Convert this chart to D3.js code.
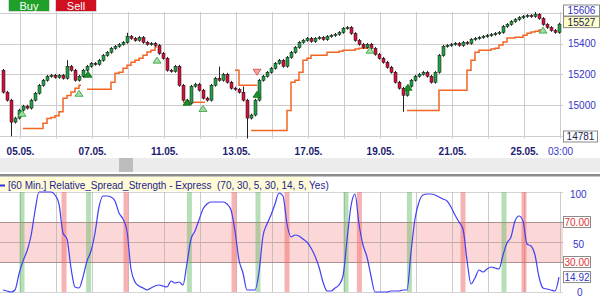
<!DOCTYPE html>
<html>
<head>
<meta charset="utf-8">
<script src="https://cdn.jsdelivr.net/npm/d3@7"></script>
<style>
  body { margin: 0; background: #fff; }
  svg { display: block; font-family: Arial, "Liberation Sans", sans-serif; }
</style>
</head>
<body>
<div id="chart"></div>
<script>
// hourly closes, one per bar (open = previous close)
const firstOpen = 15226;
const closes = [
  15083, 15031, 14888, 14914, 14966, 14992, 14979, 15031, 15076, 15128,
  15161, 15187, 15193, 15180, 15193, 15174, 15252, 15226, 15161, 15187,
  15226, 15252, 15271, 15265, 15291, 15323, 15343, 15369, 15382, 15395,
  15408, 15447, 15434, 15421, 15440, 15408, 15395, 15401, 15388, 15336,
  15304, 15226, 15219, 15252, 15128, 15031, 15011, 15122, 15135, 15096,
  15044, 15031, 15128, 15174, 15161, 15200, 15148, 15109, 15102, 15083,
  15031, 14914, 14934, 15031, 15161, 15187, 15213, 15239, 15271, 15291,
  15252, 15310, 15343, 15375, 15408, 15421, 15434, 15414, 15434, 15440,
  15427, 15447, 15453, 15460, 15473, 15499, 15505, 15466, 15421, 15395,
  15375, 15395, 15369, 15330, 15304, 15278, 15245, 15213, 15148, 15109,
  15063, 15122, 15161, 15187, 15200, 15213, 15187, 15148, 15213, 15323,
  15382, 15388, 15395, 15401, 15388, 15408, 15401, 15427, 15434, 15440,
  15447, 15453, 15460, 15466, 15473, 15512, 15525, 15544, 15557, 15570,
  15577, 15583, 15577, 15590, 15564, 15525, 15505, 15486, 15473, 15527
];
// bars with long wicks
const wickHighs = { 16: 15292, 31: 15470, 54: 15250, 60: 15120, 133: 15606 };
const wickLows = { 2: 14795, 61: 14781, 100: 14955 };

// indicator values per bar
const rss = [
  2, 1, 0, 2, 18, 31, 41, 56, 81, 100,
  100, 100, 100, 97, 88, 59, 53, 24, 5, 4,
  15, 31, 41, 59, 85, 96, 96, 95, 91, 79,
  73, 61, 23, 10, 6, 4, 2, 4, 6, 7,
  6, 5, 11, 9, 10, 7, 29, 53, 61, 72,
  83, 88, 90, 90, 90, 90, 88, 82, 61, 32,
  19, 2, 2, 2, 20, 56, 68, 77, 88, 99,
  96, 68, 55, 57, 56, 53, 50, 44, 36, 25,
  10, 1, 1, 4, 7, 16, 52, 86, 98, 68,
  47, 35, 16, 0, 0, 0, 0, 1, 1, 1,
  2, 2, 40, 73, 90, 97, 98, 98, 97, 95,
  93, 91, 85, 77, 70, 63, 32, 8, 14, 22,
  20, 23, 25, 24, 23, 37, 49, 55, 71, 76,
  71, 48, 46, 37, 15, 4, 3, 2, 1, 14.92
];

// trailing stop runs: first bar, then one value per bar
const stopRuns = [
  { start: 5, values: [14846, 14846, 14846, 14846, 14846, 14880, 14912, 14918, 14930, 14955, 15043, 15062, 15085, 15108, 15128] },
  { start: 21, values: [15102, 15102, 15102, 15102, 15102, 15102, 15148, 15207, 15213, 15239, 15259, 15279, 15292, 15305, 15324, 15345, 15357, 15377] },
  { start: 45, values: [15017, 15017, 15017, 15017, 15017, 15017] },
  { start: 58, values: [15226, 15128, 15128, 15128, 15128, 15128] },
  { start: 62, values: [14833, 14833, 14833, 14833, 14833, 14833, 14833, 14833, 14833, 14964, 15148, 15161, 15213, 15292, 15305, 15324, 15324, 15324, 15324, 15344, 15344, 15344, 15350, 15357, 15357, 15357, 15364, 15370, 15370, 15377] },
  { start: 101, values: [14964, 14964, 14964, 14964, 14964, 14964, 14964, 14964, 15095, 15095, 15095, 15095, 15095, 15095, 15095, 15226, 15292, 15344, 15357, 15357, 15357, 15365, 15370, 15390, 15410, 15436, 15436, 15442, 15442, 15455, 15468, 15475, 15480, 15488] }
];

const markerBars = [4.75, 19, 21.25, 38.5, 46, 50, 63.5, 63.5, 91.75, 101.25, 135];
const markerPrices = [14945, 15076, 15200, 15292, 15017, 14977, 15213, 15069, 15357, 15115, 15488];
const markerKinds = ["exit", "exit", "entry", "exit", "entry", "exit", "short", "entry", "exit", "entry", "exit"];

const buySignals = [4.75, 21.4, 46.6, 63.75, 85.75, 101.6, 125.25];
const sellSignals = [15.25, 30.75, 57.75, 71, 89.1, 115, 130.25];

const dayLabels = ["05.05.", "", "07.05.", "", "11.05.", "", "13.05.", "", "17.05.", "", "19.05.", "", "21.05.", "", "25.05.", "03:00"];
const dayBars = dayLabels.map((d, k) => 4.25 + 9 * k);
const priceGrid = [15600, 15400, 15200, 15000, 14800];
const priceLabels = [15400, 15200, 15000];
const rssLabels = [100, 50, 0];
const rssLevels = [70, 50, 30];

const W = 600, H = 300, plotRight = 563;
const svg = d3.select("#chart").append("svg").attr("width", W).attr("height", H);

const x = d3.scaleLinear().domain([-0.75, 140]).range([0, plotRight]);
const yP = d3.scaleLinear().domain([14781, 15606]).range([138.5, 12]);
const yI = d3.scaleLinear().domain([0, 100]).range([292, 192]);

// ---------- price panel ----------
const pricePanel = svg.append("g");
pricePanel.append("g").selectAll("line").data(dayBars).join("line")
  .attr("x1", d => Math.round(x(d)) + 0.5).attr("x2", d => Math.round(x(d)) + 0.5)
  .attr("y1", 12).attr("y2", 138.5)
  .attr("stroke", "#cdcdcd");
pricePanel.append("g").selectAll("line").data(priceGrid).join("line")
  .attr("x1", 0).attr("x2", plotRight)
  .attr("y1", d => Math.round(yP(d)) + 0.5).attr("y2", d => Math.round(yP(d)) + 0.5)
  .attr("stroke", "#cdcdcd");

// trailing stop
const stopLine = d3.line().x(d => x(d[0])).y(d => yP(d[1])).curve(d3.curveStepAfter);
pricePanel.append("g").selectAll("path").data(stopRuns).join("path")
  .attr("fill", "none").attr("stroke", "#f26522").attr("stroke-width", 1.5)
  .attr("d", r => {
    const pts = r.values.map((v, j) => [r.start + j, v]);
    pts.push([r.start + r.values.length - 0.5, r.values[r.values.length - 1]]);
    return stopLine(pts);
  });

// candles
const bars = closes.map((c, i) => {
  const o = i === 0 ? firstOpen : closes[i - 1];
  return {
    i, o, c,
    h: wickHighs[i] !== undefined ? wickHighs[i] : Math.max(o, c) + 9,
    l: wickLows[i] !== undefined ? wickLows[i] : Math.min(o, c) - 9
  };
});
const candle = pricePanel.append("g").selectAll("g").data(bars).join("g");
candle.append("line")
  .attr("x1", d => Math.round(x(d.i)) + 0.5).attr("x2", d => Math.round(x(d.i)) + 0.5)
  .attr("y1", d => yP(d.h)).attr("y2", d => yP(d.l))
  .attr("stroke", "#222");
candle.append("rect")
  .attr("x", d => Math.round(x(d.i)) - 1)
  .attr("width", 3)
  .attr("y", d => yP(Math.max(d.o, d.c)))
  .attr("height", d => Math.max(1.2, Math.abs(yP(d.o) - yP(d.c))))
  .attr("fill", d => d.c >= d.o ? "#22a046" : "#d3103a")
  .attr("stroke", "#111").attr("stroke-width", 0.5);

// signal markers
pricePanel.append("g").selectAll("path").data(markerBars).join("path")
  .attr("transform", (d, k) => `translate(${x(d)},${yP(markerPrices[k])})`)
  .attr("d", (d, k) => markerKinds[k] === "short" ? "M-4,-3L4,-3L0,3Z" : "M0,-3L4,3L-4,3Z")
  .attr("fill", (d, k) => markerKinds[k] === "entry" ? "#1d8f2a" : markerKinds[k] === "short" ? "#f5a3a3" : "#a6dca6")
  .attr("stroke", (d, k) => markerKinds[k] === "entry" ? "#0e6a1a" : markerKinds[k] === "short" ? "#d04848" : "#2e9a3a")
  .attr("stroke-width", 0.8);

// price axis
const pAxis = pricePanel.append("g").attr("transform", `translate(${plotRight},0)`)
  .call(d3.axisRight(yP).tickValues(priceLabels).tickFormat(d3.format("d")).tickSize(0).tickPadding(5));
pAxis.select(".domain").remove();
pAxis.selectAll("text").attr("fill", "#3535c8").attr("font-size", 10).attr("font-family", "Arial, 'Liberation Sans', sans-serif");

function valueBox(g, cy, w, label, fill, color) {
  g.append("rect").attr("x", plotRight + 0.5).attr("y", cy - 5.5).attr("width", w).attr("height", 11)
    .attr("fill", fill).attr("stroke", "#8a8a8a");
  g.append("text").attr("x", plotRight + 0.5 + w / 2).attr("y", cy + 3.6)
    .attr("text-anchor", "middle").attr("font-size", 10).attr("fill", color).text(label);
}
valueBox(pricePanel, 10.5, 36, "15606", "#fff", "#3535c8");
valueBox(pricePanel, yP(closes[closes.length - 1]) - 2, 36, String(closes[closes.length - 1]), "#ffffc8", "#222250");
valueBox(pricePanel, 136.5, 34, "14781", "#fff", "#222250");

// date axis
const xAxis = svg.append("g").attr("transform", "translate(0,146)")
  .call(d3.axisBottom(x).tickValues(dayBars.filter((d, k) => dayLabels[k]))
    .tickFormat(d => dayLabels[dayBars.indexOf(d)]).tickSize(0).tickPadding(2));
xAxis.select(".domain").remove();
xAxis.selectAll("text")
  .attr("font-size", 10).attr("font-family", "Arial, 'Liberation Sans', sans-serif")
  .attr("font-weight", d => dayLabels[dayBars.indexOf(d)].includes(":") ? "normal" : "bold")
  .attr("fill", d => dayLabels[dayBars.indexOf(d)].includes(":") ? "#3535c8" : "#1c2070");

// buttons
const btn = svg.append("g");
btn.append("rect").attr("x", 8.5).attr("y", -0.5).attr("width", 41).attr("height", 12).attr("fill", "#1ea02a").attr("stroke", "#d8d8d8");
btn.append("text").attr("x", 29).attr("y", 9.5).attr("text-anchor", "middle").attr("font-size", 11).attr("fill", "#fff").text("Buy");
btn.append("rect").attr("x", 55.5).attr("y", -0.5).attr("width", 41).attr("height", 12).attr("fill", "#d0101e").attr("stroke", "#d8d8d8");
btn.append("text").attr("x", 76).attr("y", 9.5).attr("text-anchor", "middle").attr("font-size", 11).attr("fill", "#fff").text("Sell");

// scroll bar and separator
svg.append("rect").attr("x", 0).attr("y", 158).attr("width", W).attr("height", 14).attr("fill", "#ececec");
svg.append("rect").attr("x", 119).attr("y", 158).attr("width", 14).attr("height", 14).attr("fill", "#bdbdbd");
svg.append("rect").attr("x", 0).attr("y", 174).attr("width", W).attr("height", 2.5).attr("fill", "#8c8c8c");

// ---------- indicator panel ----------
const indPanel = svg.append("g");
indPanel.append("rect").attr("x", 0).attr("y", yI(70)).attr("width", plotRight).attr("height", yI(30) - yI(70)).attr("fill", "#fcd7d7");
indPanel.append("g").selectAll("line").data([100, 0]).join("line")
  .attr("x1", 0).attr("x2", plotRight)
  .attr("y1", d => Math.round(yI(d)) + 0.5).attr("y2", d => Math.round(yI(d)) + 0.5)
  .attr("stroke", "#d4d4d4");
indPanel.append("g").selectAll("line").data(dayBars).join("line")
  .attr("x1", d => Math.round(x(d)) + 0.5).attr("x2", d => Math.round(x(d)) + 0.5)
  .attr("y1", yI(100)).attr("y2", yI(0))
  .attr("stroke", "#a8a8a8").attr("stroke-opacity", 0.6);
indPanel.append("g").selectAll("line").data(rssLevels).join("line")
  .attr("x1", 0).attr("x2", plotRight)
  .attr("y1", d => Math.round(yI(d)) + 0.5).attr("y2", d => Math.round(yI(d)) + 0.5)
  .attr("stroke", d => d === 50 ? "#c9a9a9" : "#a89090");

indPanel.append("g").selectAll("rect").data(buySignals).join("rect")
  .attr("x", d => x(d) - 2.5).attr("width", 5).attr("y", yI(100)).attr("height", yI(0) - yI(100))
  .attr("fill", "#5fb85f").attr("fill-opacity", 0.45);
indPanel.append("g").selectAll("rect").data(sellSignals).join("rect")
  .attr("x", d => x(d) - 2.5).attr("width", 5).attr("y", yI(100)).attr("height", yI(0) - yI(100))
  .attr("fill", "#f06868").attr("fill-opacity", 0.5);

indPanel.append("path").datum(rss)
  .attr("fill", "none").attr("stroke", "#3f3ff5").attr("stroke-width", 1.2)
  .attr("d", d3.line().x((d, i) => x(i)).y(d => yI(d)).curve(d3.curveMonotoneX));

const iAxis = indPanel.append("g").attr("transform", `translate(${plotRight},0)`)
  .call(d3.axisRight(yI).tickValues(rssLabels).tickSize(0).tickPadding(9));
iAxis.select(".domain").remove();
iAxis.selectAll("text").attr("fill", "#3535c8").attr("font-size", 10)
  .attr("font-family", "Arial, 'Liberation Sans', sans-serif")
  .attr("dy", d => d === 0 ? "0.32em" : "0.55em")
  .attr("x", d => d === 0 ? 14 : d === 50 ? 10 : 7);
valueBox(indPanel, yI(70), 27, "70.00", "#fff", "#e03030");
valueBox(indPanel, yI(30), 27, "30.00", "#fff", "#e03030");
valueBox(indPanel, yI(rss[rss.length - 1]), 27, rss[rss.length - 1].toFixed(2), "#fff", "#3535c8");

// title bar
indPanel.append("rect").attr("x", 0).attr("y", 177).attr("width", 311).attr("height", 14).attr("fill", "#fffbd6");
indPanel.append("line").attr("x1", 0).attr("x2", 5).attr("y1", 185.5).attr("y2", 185.5).attr("stroke", "#2f2ff0").attr("stroke-width", 2);
indPanel.append("text").attr("x", 8).attr("y", 188.5).attr("font-size", 10).attr("fill", "#24248c")
  .style("white-space", "pre")
  .text("[60 Min.] Relative_Spread_Strength - Express  (70, 30, 5, 30, 14, 5, Yes)");
</script>
</body>
</html>
